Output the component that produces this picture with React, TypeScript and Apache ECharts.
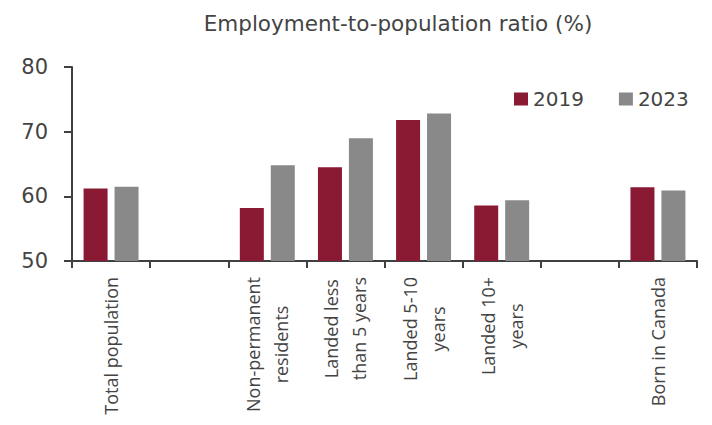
import React, { useEffect, useRef } from "react";
import * as echarts from "echarts";

const titleText = "Employment-to-population ratio (%)";
const categories = [
  "Total population",
  "",
  "Non-permanent\nresidents",
  "Landed less\nthan 5 years",
  "Landed 5-10\nyears",
  "Landed 10+\nyears",
  " ",
  "Born in Canada",
];
const seriesNames = ["2019", "2023"];
const values2019 = [61.2, null, 58.2, 64.5, 71.8, 58.6, null, 61.4];
const values2023 = [61.5, null, 64.8, 69.0, 72.8, 59.4, null, 60.9];
const yTicks = { min: 50, max: 80, interval: 10 };
const colors = ["#8A1A34", "#898989"];

export default function App() {
  const ref = useRef<HTMLDivElement>(null);
  useEffect(() => {
    if (!ref.current) return;
    const chart = echarts.init(ref.current, undefined, { renderer: "svg" });
    const axisColor = "#404040";
    const textColor = "#444444";
    chart.setOption({
      animation: false,
      backgroundColor: "#ffffff",
      graphic: [
        {
          type: "text",
          x: 398,
          y: 23,
          style: {
            text: titleText,
            align: "center",
            verticalAlign: "middle",
            fontFamily: "DejaVu Sans",
            fontSize: 21.5,
            fill: textColor,
          },
        },
      ],
      legend: {
        data: seriesNames,
        left: 509,
        top: 84,
        icon: "rect",
        itemWidth: 14,
        itemHeight: 13,
        itemGap: 35,
        textStyle: { fontFamily: "DejaVu Sans", fontSize: 20, color: textColor },
      },
      grid: { left: 72, right: 15, top: 67, bottom: 164, containLabel: false },
      xAxis: {
        type: "category",
        data: categories,
        axisLine: { show: true, lineStyle: { color: axisColor, width: 2 } },
        axisTick: { show: true, length: 7, lineStyle: { color: axisColor, width: 2 } },
        axisLabel: {
          interval: 0,
          rotate: 90,
          margin: 16,
          formatter: (v: string) =>
            v
              .split("\n")
              .map((l) => "{c|" + l + "}")
              .join("\n"),
          rich: {
            c: {
              align: "center",
              fontFamily: "Open Sans",
              fontSize: 18,
              lineHeight: 28,
              color: textColor,
            },
          },
        },
        splitLine: { show: false },
      },
      yAxis: {
        type: "value",
        min: yTicks.min,
        max: yTicks.max,
        interval: yTicks.interval,
        axisLine: { show: true, lineStyle: { color: axisColor, width: 2 } },
        axisTick: { show: true, length: 8, lineStyle: { color: axisColor, width: 2 } },
        axisLabel: {
          margin: 24,
          fontFamily: "DejaVu Sans",
          fontSize: 21,
          color: textColor,
        },
        splitLine: { show: false },
      },
      series: [
        {
          name: seriesNames[0],
          type: "bar",
          data: values2019,
          barWidth: 24,
          barGap: "29%",
          itemStyle: { color: colors[0] },
        },
        {
          name: seriesNames[1],
          type: "bar",
          data: values2023,
          barWidth: 24,
          barGap: "29%",
          itemStyle: { color: colors[1] },
        },
      ],
    });
    return () => chart.dispose();
  }, []);
  return (
    <div
      ref={ref}
      style={{ position: "absolute", left: 0, top: 0, width: 712, height: 425 }}
    />
  );
}
